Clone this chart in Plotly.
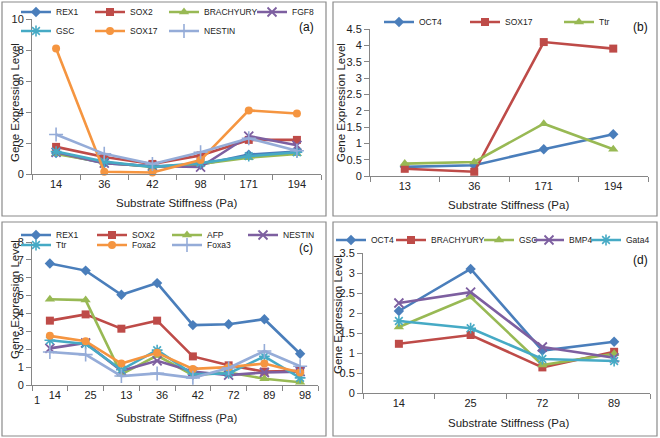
import plotly.graph_objects as go

# ---------------- data ----------------
cats_a = ["14", "36", "42", "98", "171", "194"]
a_REX1 = [1.35, 0.7, 0.5, 0.6, 1.25, 1.45]
a_SOX2 = [1.75, 1.1, 0.65, 1.2, 2.2, 2.2]
a_BRACHYURY = [1.3, 0.75, 0.45, 0.65, 1.05, 1.3]
a_FGF8 = [1.4, 0.7, 0.5, 0.45, 2.45, 1.85]
a_GSC = [1.45, 0.8, 0.45, 0.7, 1.15, 1.4]
a_SOX17 = [8.1, 0.15, 0.1, 0.9, 4.1, 3.9]
a_NESTIN = [2.55, 1.3, 0.65, 1.4, 2.3, 1.5]

cats_b = ["13", "36", "171", "194"]
b_OCT4 = [0.28, 0.33, 0.82, 1.28]
b_SOX17 = [0.22, 0.13, 4.1, 3.9]
b_Ttr = [0.38, 0.43, 1.6, 0.82]

cats_c = ["14", "25", "13", "36", "42", "72", "89", "98"]
c_REX1 = [6.8, 6.4, 5.05, 5.7, 3.35, 3.4, 3.68, 1.75]
c_SOX2 = [3.6, 3.95, 3.15, 3.6, 1.6, 1.1, 0.75, 0.8]
c_AFP = [4.8, 4.75, 0.6, 1.65, 0.55, 0.7, 0.35, 0.15]
c_NESTIN = [2.05, 2.35, 0.8, 1.35, 0.75, 0.55, 0.7, 0.75]
c_Ttr = [2.5, 2.3, 0.85, 1.95, 0.6, 0.65, 1.6, 0.4]
c_Foxa2 = [2.75, 2.45, 1.2, 1.8, 0.9, 1.0, 1.2, 0.7]
c_Foxa3 = [1.85, 1.7, 0.5, 0.65, 0.4, 0.95, 1.9, 1.05]

cats_d = ["14", "25", "72", "89"]
d_OCT4 = [2.05, 3.1, 1.06, 1.28]
d_BRACHYURY = [1.23, 1.45, 0.64, 1.03]
d_GSC = [1.65, 2.4, 0.7, 0.98]
d_BMP4 = [2.25, 2.52, 1.15, 0.88]
d_Gata4 = [1.8, 1.62, 0.85, 0.8]

# ---------------- styles ----------------
BLUE, RED, GREEN, PURPLE, CYAN, ORANGE, LIGHT = (
    "#4A7EBB", "#BE4B48", "#98B954", "#7D5FA0", "#46AAC5", "#F59540", "#95ACD8")
S = {
    "dia": dict(symbol="diamond", size=8),
    "sq": dict(symbol="square", size=8),
    "tri": dict(symbol="triangle-up", size=9),
    "x": dict(symbol="x-thin-open", size=9, line=dict(width=1.8)),
    "ast": dict(symbol="asterisk-open", size=9, line=dict(width=1.6)),
    "cir": dict(symbol="circle", size=8),
    "plus": dict(symbol="cross-thin-open", size=10, line=dict(width=1.6)),
}

FONT = "Liberation Sans, Arial, sans-serif"
W, H = 660, 438


def px(x):
    return x / W


def py(y):
    return 1 - y / H


fig = go.Figure()
legends = {}
legfont = dict(family=FONT, size=8.5, color="#222")


def add(name, cats, vals, color, sym, ax, lx, ly):
    m = dict(S[sym])
    m["color"] = color
    if "line" in m:
        m["line"] = dict(m["line"], color=color)
    k = len(legends) + 1
    lname = "legend" if k == 1 else "legend%d" % k
    legends[lname] = dict(x=px(lx), y=py(ly), xanchor="left", yanchor="middle",
                          orientation="h", font=legfont,
                          bgcolor="rgba(0,0,0,0)", itemwidth=30,
                          itemclick=False, itemdoubleclick=False)
    fig.add_trace(go.Scatter(
        x=cats, y=vals, name=name, mode="lines+markers",
        line=dict(color=color, width=2.6), marker=m,
        xaxis="x" + ax, yaxis="y" + ax, legend=lname, cliponaxis=False))


# panel a
add("REX1", cats_a, a_REX1, BLUE, "dia", "", 16, 12)
add("SOX2", cats_a, a_SOX2, RED, "sq", "", 90, 12)
add("BRACHYURY", cats_a, a_BRACHYURY, GREEN, "tri", "", 164, 12)
add("FGF8", cats_a, a_FGF8, PURPLE, "x", "", 252, 12)
add("GSC", cats_a, a_GSC, CYAN, "ast", "", 16, 31)
add("SOX17", cats_a, a_SOX17, ORANGE, "cir", "", 90, 31)
add("NESTIN", cats_a, a_NESTIN, LIGHT, "plus", "", 164, 31)
# panel b
add("OCT4", cats_b, b_OCT4, BLUE, "dia", "2", 379, 22)
add("SOX17", cats_b, b_SOX17, RED, "sq", "2", 465, 22)
add("Ttr", cats_b, b_Ttr, GREEN, "tri", "2", 559, 22)
# panel c
add("REX1", cats_c, c_REX1, BLUE, "dia", "3", 16, 235)
add("SOX2", cats_c, c_SOX2, RED, "sq", "3", 92, 235)
add("AFP", cats_c, c_AFP, GREEN, "tri", "3", 167, 235)
add("NESTIN", cats_c, c_NESTIN, PURPLE, "x", "3", 243, 235)
add("Ttr", cats_c, c_Ttr, CYAN, "ast", "3", 16, 245)
add("Foxa2", cats_c, c_Foxa2, ORANGE, "cir", "3", 92, 245)
add("Foxa3", cats_c, c_Foxa3, LIGHT, "plus", "3", 167, 245)
# panel d
add("OCT4", cats_d, d_OCT4, BLUE, "dia", "4", 331, 240)
add("BRACHYURY", cats_d, d_BRACHYURY, RED, "sq", "4", 391, 240)
add("GSC", cats_d, d_GSC, GREEN, "tri", "4", 479, 240)
add("BMP4", cats_d, d_BMP4, PURPLE, "x", "4", 529, 240)
add("Gata4", cats_d, d_Gata4, CYAN, "ast", "4", 586, 240)

AXC = "#868686"
tickfont = dict(family=FONT, size=11, color="#222")


def xaxis(dom, n, anchor, shift=0):
    return dict(domain=[px(dom[0]), px(dom[1])], type="category",
                range=[-0.5, n - 0.5], showline=True, linecolor=AXC,
                linewidth=1, ticks="outside", tickson="boundaries",
                ticklen=5, tickcolor=AXC, showgrid=False, zeroline=False,
                tickfont=tickfont, anchor=anchor, fixedrange=True,
                ticklabelshift=shift)


def yaxis(dom, rng, dt, anchor):
    return dict(domain=[py(dom[1]), py(dom[0])], range=rng, dtick=dt,
                showline=True, linecolor=AXC, linewidth=1, ticks="outside",
                ticklen=5, tickcolor=AXC, showgrid=False, zeroline=False,
                tickfont=tickfont, anchor=anchor, fixedrange=True)


fig.update_layout(
    width=W, height=H, margin=dict(l=0, r=0, t=0, b=0, autoexpand=False),
    paper_bgcolor="white", plot_bgcolor="white", showlegend=True,
    font=dict(family=FONT),
    xaxis=xaxis((32, 321), 6, "y"), yaxis=yaxis((19, 174), [0, 10], 2, "x"),
    xaxis2=xaxis((370, 648), 4, "y2"), yaxis2=yaxis((29, 176), [0, 4.5], 0.5, "x2"),
    xaxis3=xaxis((32, 318), 8, "y3", 5), yaxis3=yaxis((242, 385), [0, 8], 1, "x3"),
    xaxis4=xaxis((363, 650), 4, "y4"), yaxis4=yaxis((253, 393), [0, 3.5], 0.5, "x4"),
    **legends,
)

shapes = []
for (x0, y0, x1, y1) in [(2, 2, 326, 216), (333, 2, 657, 216),
                         (2, 222, 326, 436), (333, 222, 657, 436)]:
    shapes.append(dict(type="rect", xref="paper", yref="paper",
                       x0=px(x0), x1=px(x1), y0=py(y0), y1=py(y1),
                       line=dict(color="#8A8A8A", width=1.2)))
fig.update_layout(shapes=shapes)

ann = []
ttl = dict(family=FONT, size=11.5, color="#222")
for (x, y) in [(176, 203), (508, 205), (176, 418), (508, 423)]:
    ann.append(dict(text="Substrate Stiffness (Pa)", x=px(x), y=py(y),
                    xref="paper", yref="paper", showarrow=False, font=ttl,
                    xanchor="center", yanchor="middle"))
for (x, y) in [(15, 103), (341, 103), (15, 300), (338, 315)]:
    ann.append(dict(text="Gene Expression Level", x=px(x), y=py(y),
                    xref="paper", yref="paper", showarrow=False, font=ttl,
                    textangle=-90, xanchor="center", yanchor="middle"))
for (t, x, y) in [("(a)", 306, 27), ("(b)", 640, 27), ("(c)", 306, 248), ("(d)", 640, 260)]:
    ann.append(dict(text=t, x=px(x), y=py(y), xref="paper", yref="paper",
                    showarrow=False, font=dict(family=FONT, size=12, color="#111"),
                    xanchor="center", yanchor="middle"))
ann.append(dict(text="1", x=px(37), y=py(400), xref="paper", yref="paper",
                showarrow=False, font=tickfont, xanchor="center", yanchor="middle"))
fig.update_layout(annotations=ann)

fig.write_html("out.html", config={"displayModeBar": False},
               post_script="document.body.style.margin='0';document.body.style.overflow='hidden';")
